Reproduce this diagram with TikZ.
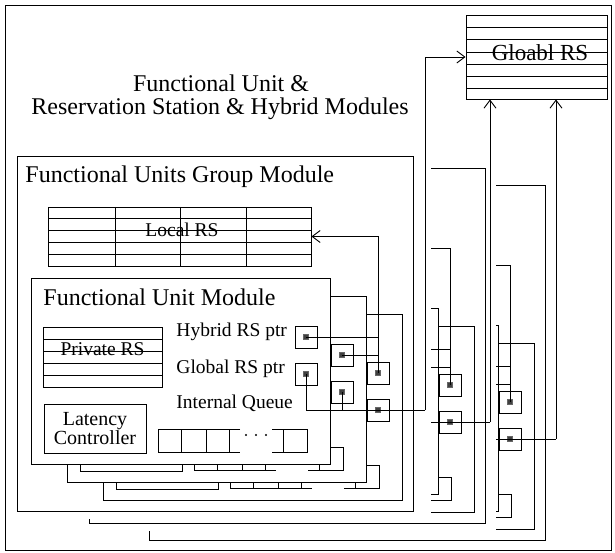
\documentclass[tikz,border=0pt]{standalone}
\usepackage{fontspec}
\setmainfont{Liberation Serif}
\usetikzlibrary{arrows.meta}

\tikzset{
  head/.style={font=\fontsize{24}{23}\selectfont, inner sep=0pt},
  lbl/.style={font=\fontsize{19.5}{22}\selectfont, inner sep=0pt},
  latency/.style={draw, fill=white, minimum width=102pt, minimum height=49pt, inner sep=0pt, align=center, font=\fontsize{20}{19}\selectfont},
  ptr/.style={draw, fill=white, minimum size=22pt, inner sep=0pt},
  ptrdot/.style={draw=black!60, fill=black!75, minimum size=5pt, inner sep=0pt},
  rstable/.style={draw, inner sep=0pt}
}

% eine Functional Unit (#1 Gruppe, #2 Ebene), Text nur vorne
\newcommand{\fuunit}[2]{%
  \begin{scope}[shift={(36*#2,18*#2)}]
    \draw[fill=white] (31,278) rectangle (330,464);
    % Private RS
    \draw (43,327) rectangle (162,387);
    \foreach \y in {339,351,363,375} \draw (43,\y) -- (162,\y);
    \ifnum#1#2=10
      \node[head, anchor=base west] at (43,305) {Functional Unit Module};
      \node[lbl] at (102.5,349.5) {Private RS};
      % Beschriftung
      \node[lbl, anchor=base west] at (176,336) {Hybrid RS ptr};
      \node[lbl, anchor=base west] at (176,373) {Global RS ptr};
      \node[lbl, anchor=base west] at (176,408) {Internal Queue};
      \node[latency] (lat#1-#2) at (95,428.5) {Latency\\Controller};
    \else
      \node[latency] (lat#1-#2) at (95,428.5) {};
    \fi
    % Queue
    \draw (240,429) -- (158,429) -- (158,452) -- (240,452);
    \foreach \x in {181,206,229} \draw (\x,429) -- (\x,452);
    \draw (272,429) -- (307,429) -- (307,452) -- (272,452) (283,429) -- (283,452);
    \foreach \x in {246,256,266} \fill (\x,435) circle (1.2pt);
    % Zeiger
    \node[ptr] (h#1-#2) at (306,337) {};
    \node[ptrdot] at (h#1-#2) {};
    \node[ptr] (g#1-#2) at (306,374) {};
    \node[ptrdot] at (g#1-#2) {};
  \end{scope}}

% eine Gruppe (#1 Name, #2/#3 Versatz, #4 Bus, #5 Ende zum Global RS)
\newcommand{\fugroup}[5]{%
  \begin{scope}[shift={(#2,#3)}]
    \fill[white] (17,156) rectangle (#4+6,519);
    \draw (17,156) rectangle (413,511);
    % Local RS
    \node[rstable, minimum width=263pt, minimum height=59pt] (lrs#1) at (179.5,236.5) {};
    \foreach \y in {218,230,242,254} \draw (48,\y) -- (311,\y);
    \foreach \x in {115,180,246} \draw (\x,207) -- (\x,266);
    \ifnum#1=1
      \node[head, anchor=base west] at (25,183) {Functional Units Group Module};
      \node[lbl] at (182,229.5) {Local RS};
    \fi
    \foreach \u in {2,1,0} {\fuunit{#1}{\u}}
    % Verbindungen
    \draw[->] (h#1-2.center) |- (lrs#1.east);
    \draw (h#1-0.center) -- (h#1-0.center -| h#1-2.center);
    \draw (h#1-1.center) -- (h#1-1.center -| h#1-2.center);
    \coordinate (gb#1) at (#4,410);
    \draw (g#1-0.center) |- (gb#1);
    \draw (g#1-1.center) -- (g#1-1.center |- gb#1);
    \draw[->] (gb#1) #5;
  \end{scope}}

\begin{document}
\begin{tikzpicture}[x=1pt, y=-1pt, line width=0.9pt,
    >={Straight Barb[length=8pt, width=12pt]}]
  \useasboundingbox (0,0) rectangle (615,553);
  % Rahmen
  \draw (5,5) rectangle (611,550);
  % Titel
  \node[head, anchor=base] (title1) at (221,92) {Functional Unit \&};
  \node[head, anchor=base] (title2) at (220,115) {Reservation Station \& Hybrid Modules};
  % Global RS
  \node[rstable, minimum width=141pt, minimum height=84pt] (grs) at (536.5,57) {};
  \foreach \y in {27,39,52,64,76,88} \draw (466,\y) -- (607,\y);
  \node[font=\fontsize{23}{25}\selectfont, inner sep=0pt] at (540,52.5) {Gloabl RS};
  % Gruppen von hinten nach vorne
  \fugroup{3}{132}{29}{424}{-- (gb3 |- grs.south)}
  \fugroup{2}{72}{12}{418}{-- (gb2 |- grs.south)}
  \fugroup{1}{0}{0}{425}{|- (grs.west)}
\end{tikzpicture}
\end{document}
